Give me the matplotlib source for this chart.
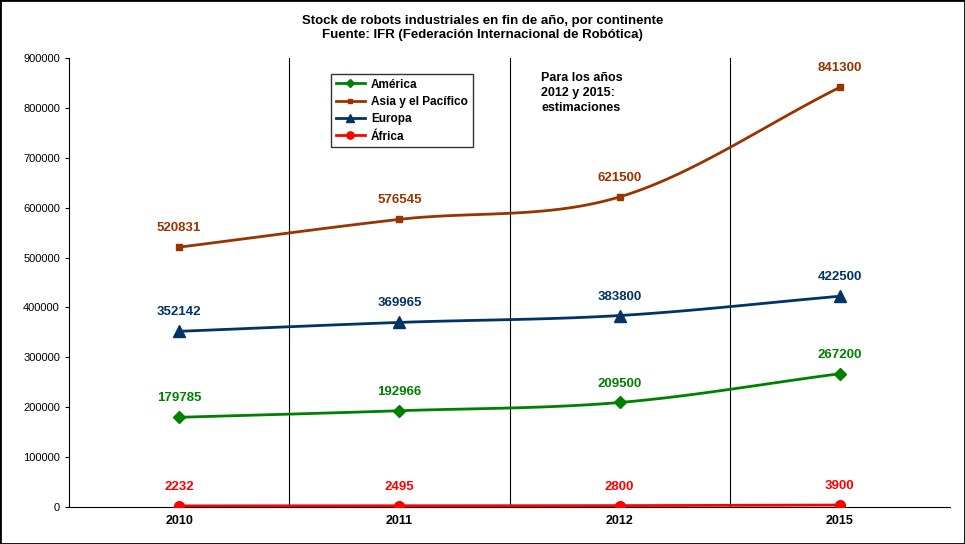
import matplotlib
matplotlib.use("Agg")
import matplotlib.pyplot as plt
import numpy as np
from matplotlib.patches import Rectangle
from matplotlib.lines import Line2D

plt.rcParams["font.family"] = "Liberation Sans"

years = ["2010", "2011", "2012", "2015"]
america = [179785, 192966, 209500, 267200]
asia = [520831, 576545, 621500, 841300]
europa = [352142, 369965, 383800, 422500]
africa = [2232, 2495, 2800, 3900]

series = [
    ("América", america, "#008000", "D", 6),
    ("Asia y el Pacífico", asia, "#993300", "s", 4),
    ("Europa", europa, "#003366", "^", 8),
    ("África", africa, "#FF0000", "o", 7),
]

def smooth(x, y, n=30):
    x = np.asarray(x, float); y = np.asarray(y, float)
    px = np.concatenate([[2*x[0]-x[1]], x, [2*x[-1]-x[-2]]])
    py = np.concatenate([[2*y[0]-y[1]], y, [2*y[-1]-y[-2]]])
    xs, ys = [], []
    for i in range(1, len(px)-2):
        t = np.linspace(0, 1, n)
        for p, out in ((px, xs), (py, ys)):
            p0, p1, p2, p3 = p[i-1], p[i], p[i+1], p[i+2]
            out.extend(0.5*((2*p1) + (-p0+p2)*t + (2*p0-5*p1+4*p2-p3)*t**2 + (-p0+3*p1-3*p2+p3)*t**3))
    return xs, ys

fig = plt.figure(figsize=(9.65, 5.44), dpi=100)
fig.patches.append(Rectangle((0, 0), 1, 1, transform=fig.transFigure, fill=False,
                             edgecolor="black", linewidth=2))
ax = fig.add_axes([69/965, 37/544, 881/965, 449/544])
x = np.arange(len(years))
for name, vals, col, mk, ms in series:
    sx, sy = smooth(x, vals)
    ax.plot(sx, sy, color=col, linewidth=2, zorder=3)
    ax.plot(x, vals, linestyle="none", marker=mk, color=col, markersize=ms, zorder=4)
    for xi, v in zip(x, vals):
        ax.text(xi, v + 26000, str(v), color=col, fontsize=9.5,
                fontweight="bold", ha="center", va="bottom")
for b in [0.5, 1.5, 2.5]:
    ax.axvline(b, color="black", linewidth=0.8)
ax.set_xlim(-0.5, 3.5)
ax.set_ylim(0, 900000)
ax.set_yticks(range(0, 900001, 100000))
ax.set_yticklabels([str(v) for v in range(0, 900001, 100000)], fontsize=8)
ax.set_xticks(x)
ax.set_xticklabels(years, fontsize=9, fontweight="bold")
ax.tick_params(axis="x", length=0, pad=6)
ax.tick_params(axis="y", length=3)
for s in ["top", "right"]:
    ax.spines[s].set_visible(False)
handles = [Line2D([], [], color=c, marker=m, markersize=ms*0.75, linewidth=2) for _, _, c, m, ms in series]
leg = ax.legend(handles, [s[0] for s in series], loc="upper left",
                bbox_to_anchor=((325-69)/881, (507-68)/449),
                prop={"size": 8.5, "weight": "bold"}, frameon=True, fancybox=False,
                edgecolor="black", handlelength=2.5, borderpad=0.4, labelspacing=0.45,
                handletextpad=0.5)
leg.get_frame().set_linewidth(1)
ax.text((541-69)/881, (507-72)/449, "Para los años\n2012 y 2015:\nestimaciones",
        transform=ax.transAxes, fontsize=9, fontweight="bold", va="top", ha="left",
        linespacing=1.35, multialignment="left")
fig.text(0.5, 1-28/544, "Stock de robots industriales en fin de año, por continente\nFuente: IFR (Federación Internacional de Robótica)",
         ha="center", va="center", fontsize=9.5, fontweight="bold", linespacing=1.3)
fig.savefig("out.png", dpi=100)
